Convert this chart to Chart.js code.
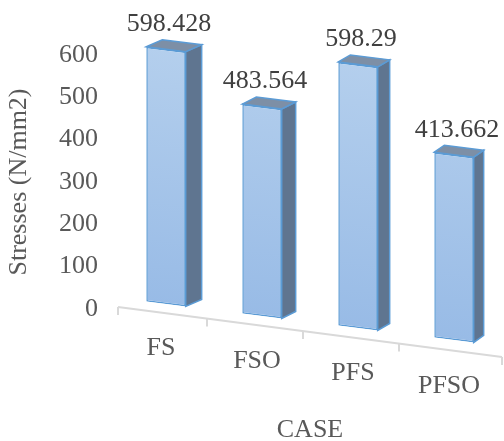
<!DOCTYPE html>
<html>
<head>
<meta charset="utf-8">
<script src="https://cdn.jsdelivr.net/npm/chart.js@4.4.1/dist/chart.umd.min.js"></script>
<style>
  html, body { margin: 0; padding: 0; background: #fff; }
  #wrap { width: 504px; height: 441px; }
</style>
</head>
<body>
<div id="wrap"><canvas id="stressChart" width="504" height="441"></canvas></div>
<script>
// DATA
const cases = ['FS', 'FSO', 'PFS', 'PFSO'];
const stresses = [598.428, 483.564, 598.29, 413.662];
const yTicks = [0, 100, 200, 300, 400, 500, 600];

// fake 3d look
const SKEW = 0.125;       // bar bases slope down to the right
const LIFT = 11;          // bars stand behind the floor edge
const FLOOR_SLOPE = 0.13;
const FONT = '"Liberation Serif", "Times New Roman", serif';

// bars nearer the viewer (right side) look a bit taller
function stretchAt(chart, x) {
    const a = chart.chartArea;
    return 0.997 + 0.07 * (x - a.left) / (a.right - a.left);
}

function project(chart, x, y, s) {
    const a = chart.chartArea;
    return [x, SKEW * (x - a.left) + s * (y - a.bottom) + a.bottom - LIFT];
}

function depthOf(chart, x) {
    const a = chart.chartArea;
    const t = (x - a.left) / (a.right - a.left);
    return [17 - 8 * t, -7];
}

function floorY(chart, x) {
    const a = chart.chartArea;
    return a.bottom - 2 + FLOOR_SLOPE * (x - a.left);
}

function poly(ctx, pts, fill, stroke) {
    ctx.beginPath();
    ctx.moveTo(pts[0][0], pts[0][1]);
    for (let i = 1; i < pts.length; i++) ctx.lineTo(pts[i][0], pts[i][1]);
    ctx.closePath();
    ctx.fillStyle = fill;
    ctx.fill();
    ctx.strokeStyle = stroke;
    ctx.lineWidth = 1.5;
    ctx.stroke();
}

const fake3d = {
    id: 'fake3d',
    beforeDatasetsDraw(chart) {
        const ctx = chart.ctx;
        const a = chart.chartArea;
        const meta = chart.getDatasetMeta(0);

        meta.data.forEach(bar => {
            const s = stretchAt(chart, bar.x);
            const l = bar.x - bar.width / 2;
            const r = bar.x + bar.width / 2;
            const [dx, dy] = depthOf(chart, bar.x);
            const tl = project(chart, l, bar.y, s);
            const tr = project(chart, r, bar.y, s);
            const br = project(chart, r, bar.base, s);
            // side face
            poly(ctx, [tr, [tr[0] + dx, tr[1] + dy], [br[0] + dx, br[1] + dy], br], '#5f7590', '#5b9bd5');
            // top face
            poly(ctx, [tl, [tl[0] + dx, tl[1] + dy], [tr[0] + dx, tr[1] + dy], tr], '#7d8fa6', '#5b9bd5');

            // front face, drawn by the bar element itself
            ctx.save();
            ctx.transform(1, SKEW, 0, s, 0, -SKEW * a.left + a.bottom * (1 - s) - LIFT);
            bar.draw(ctx, a);
            ctx.restore();
        });
        return false;
    },
    afterDraw(chart) {
        const ctx = chart.ctx;
        const a = chart.chartArea;
        const xs = chart.scales.x;
        const meta = chart.getDatasetMeta(0);

        // floor line + ticks
        ctx.save();
        ctx.strokeStyle = '#d9d9d9';
        ctx.lineWidth = 2;
        ctx.beginPath();
        ctx.moveTo(a.left, floorY(chart, a.left));
        ctx.lineTo(a.right, floorY(chart, a.right));
        const step = (a.right - a.left) / cases.length;
        for (let i = 0; i <= cases.length; i++) {
            let x = a.left + i * step;
            if (i > 0 && i < cases.length) x -= 7;
            ctx.moveTo(x, floorY(chart, x));
            ctx.lineTo(x, floorY(chart, x) + 8);
        }
        ctx.stroke();

        ctx.font = '26px ' + FONT;
        ctx.textAlign = 'center';
        ctx.textBaseline = 'middle';

        // category labels
        ctx.fillStyle = '#595959';
        cases.forEach((c, i) => {
            const x = xs.getPixelForValue(i) - 5;
            ctx.fillText(c, x, floorY(chart, x) + 36);
        });
        ctx.fillText('CASE', (a.left + a.right) / 2, chart.height - 11);

        // value labels
        ctx.fillStyle = '#404040';
        meta.data.forEach((bar, i) => {
            const top = project(chart, bar.x, bar.y, stretchAt(chart, bar.x));
            ctx.fillText(String(stresses[i]), bar.x + 3, top[1] - 25);
        });
        ctx.restore();
    }
};

window.onload = function () {
    const ctx = document.getElementById('stressChart').getContext('2d');

    new Chart(ctx, {
        type: 'bar',
        data: {
            labels: cases,
            datasets: [{
                data: stresses,
                backgroundColor: (c) => {
                    const area = c.chart.chartArea;
                    if (!area) return '#a9c6ea';
                    const g = c.chart.ctx.createLinearGradient(0, area.top, 0, area.bottom);
                    g.addColorStop(0, '#b4cfed');
                    g.addColorStop(1, '#98bbe6');
                    return g;
                },
                borderColor: '#5b9bd5',
                borderWidth: 1.5,
                borderSkipped: false,
                categoryPercentage: 1,
                barPercentage: 0.41
            }]
        },
        options: {
            responsive: false,
            animation: false,
            layout: { padding: { top: 55, bottom: 132, left: 0, right: 2 } },
            plugins: {
                legend: { display: false },
                tooltip: { enabled: false }
            },
            scales: {
                x: { display: false },
                y: {
                    min: 0,
                    max: 600,
                    afterBuildTicks: (s) => { s.ticks = yTicks.map(v => ({ value: v })); },
                    afterFit: (s) => { s.width = 118; },
                    grid: { display: false, drawTicks: false },
                    border: { display: false },
                    ticks: {
                        padding: 20,
                        color: '#595959',
                        font: { family: FONT, size: 26 }
                    },
                    title: {
                        display: true,
                        text: 'Stresses (N/mm2)',
                        color: '#595959',
                        font: { family: FONT, size: 26 },
                        padding: { top: 4, bottom: 0 }
                    }
                }
            }
        },
        plugins: [fake3d]
    });
};
</script>
</body>
</html>
